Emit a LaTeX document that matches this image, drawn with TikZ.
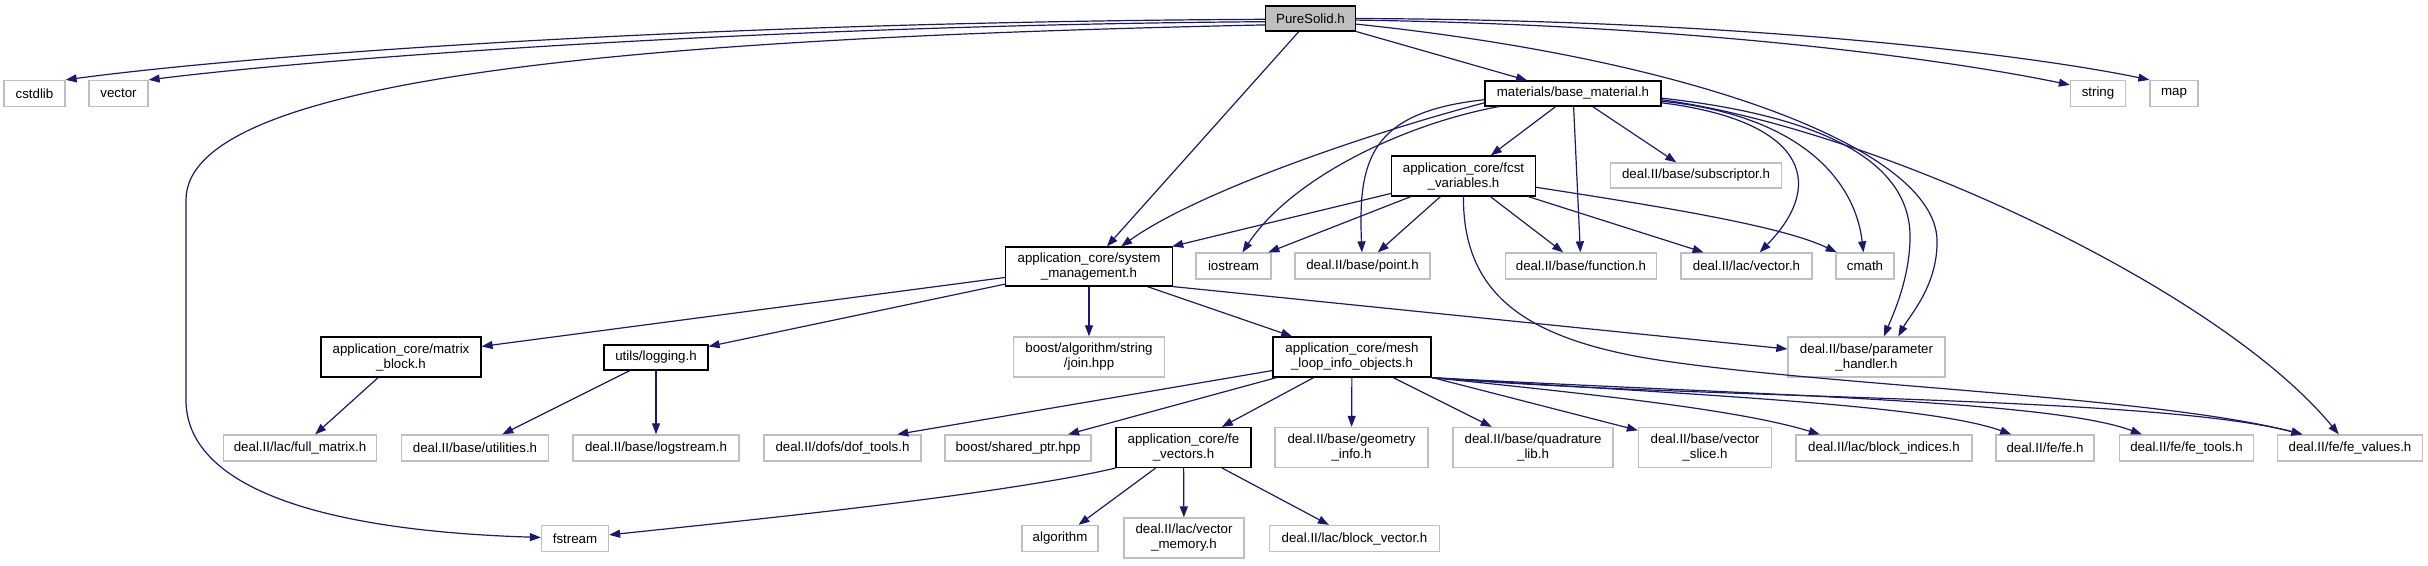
\documentclass[tikz,border=0pt]{standalone}
\usepackage{fontspec}
\setmainfont{Liberation Sans}
\usetikzlibrary{arrows.meta}
\definecolor{midblue}{HTML}{191970}
\definecolor{greyseventyfive}{HTML}{BFBFBF}
\tikzset{
  nb/.style={draw=black, line width=1.2pt, fill=white, inner sep=0pt, align=center,
    font=\fontsize{13.3}{15}\selectfont},
  ng/.style={draw=greyseventyfive, line width=1.3pt, fill=white, inner sep=0pt, align=center,
    font=\fontsize{13.3}{15}\selectfont},
  conn/.style={draw=midblue, line width=1.2pt, -{Triangle[length=11pt,width=8pt]}}
}
\begin{document}
\begin{tikzpicture}[x=1pt,y=-1pt]
\useasboundingbox (0,0) rectangle (2428,565);

% nodes
\node[nb, fill=greyseventyfive, minimum width=90pt, minimum height=25pt] (ps) at (1310.5,18.5) {PureSolid.h};
\node[ng, minimum width=61pt, minimum height=26pt] (cstdlib) at (34.5,93.5) {cstdlib};
\node[ng, minimum width=59pt, minimum height=26pt] (vector) at (118.5,93.5) {vector};
\node[nb, minimum width=176pt, minimum height=25pt] (bm) at (1573,93.5) {materials/base\_material.h};
\node[ng, minimum width=55pt, minimum height=26pt] (string) at (2098,93.5) {string};
\node[ng, minimum width=48pt, minimum height=26pt] (map) at (2174,93.5) {map};
\node[nb, minimum width=144pt, minimum height=40pt] (fcst) at (1463.5,176) {application\_core/fcst\\\_variables.h};
\node[ng, minimum width=171pt, minimum height=25pt] (subscr) at (1696,175.5) {deal.II/base/subscriptor.h};
\node[nb, minimum width=167pt, minimum height=39pt] (sys) at (1089,266.5) {application\_core/system\\\_management.h};
\node[ng, minimum width=75pt, minimum height=26pt] (iostream) at (1233.5,266) {iostream};
\node[ng, minimum width=135pt, minimum height=26pt] (point) at (1362.5,266) {deal.II/base/point.h};
\node[ng, minimum width=151pt, minimum height=26pt] (function) at (1581,266) {deal.II/base/function.h};
\node[ng, minimum width=131pt, minimum height=26pt] (lvector) at (1746.5,266) {deal.II/lac/vector.h};
\node[ng, minimum width=58pt, minimum height=26pt] (cmath) at (1865,266) {cmath};
\node[nb, minimum width=160pt, minimum height=40pt] (matrix) at (401,357) {application\_core/matrix\\\_block.h};
\node[nb, minimum width=104pt, minimum height=25pt] (logging) at (656,357.5) {utils/logging.h};
\node[ng, minimum width=151pt, minimum height=40pt] (join) at (1089,357) {boost/algorithm/string\\/join.hpp};
\node[nb, minimum width=158pt, minimum height=40pt] (mesh) at (1352,357) {application\_core/mesh\\\_loop\_info\_objects.h};
\node[ng, minimum width=157pt, minimum height=40pt] (param) at (1866.5,357) {deal.II/base/parameter\\\_handler.h};
\node[ng, minimum width=153pt, minimum height=26pt] (fullm) at (300,448) {deal.II/lac/full\_matrix.h};
\node[ng, minimum width=147pt, minimum height=26pt] (util) at (475,448) {deal.II/base/utilities.h};
\node[ng, minimum width=166pt, minimum height=26pt] (logs) at (656,448) {deal.II/base/logstream.h};
\node[ng, minimum width=157pt, minimum height=26pt] (dof) at (842.5,448) {deal.II/dofs/dof\_tools.h};
\node[ng, minimum width=146pt, minimum height=26pt] (shared) at (1018,448) {boost/shared\_ptr.hpp};
\node[nb, minimum width=135pt, minimum height=40pt] (fevec) at (1183.5,447.5) {application\_core/fe\\\_vectors.h};
\node[ng, minimum width=153pt, minimum height=40pt] (geom) at (1351.5,447.5) {deal.II/base/geometry\\\_info.h};
\node[ng, minimum width=160pt, minimum height=40pt] (quad) at (1533,447.5) {deal.II/base/quadrature\\\_lib.h};
\node[ng, minimum width=133pt, minimum height=40pt] (vslice) at (1705,447.5) {deal.II/base/vector\\\_slice.h};
\node[ng, minimum width=176pt, minimum height=26pt] (bidx) at (1884,448) {deal.II/lac/block\_indices.h};
\node[ng, minimum width=98pt, minimum height=26pt] (fe) at (2045,448) {deal.II/fe/fe.h};
\node[ng, minimum width=134pt, minimum height=26pt] (fetools) at (2186.5,448) {deal.II/fe/fe\_tools.h};
\node[ng, minimum width=145pt, minimum height=26pt] (fevalues) at (2350,448) {deal.II/fe/fe\_values.h};
\node[ng, minimum width=67pt, minimum height=26pt] (fstream) at (575,538.5) {fstream};
\node[ng, minimum width=76pt, minimum height=26pt] (algorithm) at (1060,538.5) {algorithm};
\node[ng, minimum width=120pt, minimum height=40pt] (vmem) at (1184,538) {deal.II/lac/vector\\\_memory.h};
\node[ng, minimum width=170pt, minimum height=26pt] (bvec) at (1354.5,538.5) {deal.II/lac/block\_vector.h};

% PureSolid.h
\draw[conn] (ps.181) .. controls (700,22) and (250,55) .. (cstdlib.north east);
\draw[conn] (ps.184) .. controls (800,25) and (350,55) .. (vector.north east);
\draw[conn] (ps.188) .. controls (650,38) and (186,75) .. (186,200) -- (186,400) .. controls (186,480) and (300,530) .. (fstream);
\draw[conn] (ps) -- (sys);
\draw[conn] (ps) -- (bm);
\draw[conn] (ps.-2) .. controls (1700,25) and (1950,60) .. (string.163);
\draw[conn] (ps.0) .. controls (1750,20) and (2030,55) .. (map.north west);
\draw[conn] (ps.-7) .. controls (1700,60) and (1935,150) .. (1937,240) .. controls (1938,285) and (1910,315) .. (param.33);

% base_material.h
\draw[conn] (bm.186) .. controls (1380,130) and (1200,190) .. (sys.32);
\draw[conn] (bm.190) .. controls (1400,125) and (1290,180) .. (iostream);
\draw[conn] (bm.184) .. controls (1370,112) and (1358,160) .. (point);
\draw[conn] (bm) -- (fcst);
\draw[conn] (bm) -- (function);
\draw[conn] (bm) -- (subscr);
\draw[conn] (bm.-6) .. controls (1800,120) and (1830,180) .. (lvector);
\draw[conn] (bm.-5) .. controls (1800,115) and (1855,180) .. (cmath);
\draw[conn] (bm.-3) .. controls (1860,120) and (1912,180) .. (1910,240) .. controls (1909,280) and (1893,315) .. (param.50);
\draw[conn] (bm.-4) .. controls (1880,130) and (2220,290) .. (fevalues);

% fcst_variables.h
\draw[conn] (fcst) -- (sys);
\draw[conn] (fcst) -- (iostream);
\draw[conn] (fcst) -- (point);
\draw[conn] (fcst) -- (function);
\draw[conn] (fcst) -- (lvector);
\draw[conn] (fcst) .. controls (1650,205) and (1780,225) .. (cmath);
\draw[conn] (fcst) .. controls (1463,290) and (1520,335) .. (1640,357) .. controls (1800,385) and (2150,395) .. (fevalues.164);

% system_management.h
\draw[conn] (sys) -- (matrix);
\draw[conn] (sys) -- (logging);
\draw[conn] (sys) -- (join);
\draw[conn] (sys) -- (mesh);
\draw[conn] (sys.south east) -- (param);

\draw[conn] (matrix) -- (fullm);
\draw[conn] (logging) -- (util);
\draw[conn] (logging) -- (logs);

% mesh_loop_info_objects.h
\draw[conn] (mesh) -- (dof.14);
\draw[conn] (mesh) -- (shared);
\draw[conn] (mesh) -- (fevec);
\draw[conn] (mesh) -- (geom);
\draw[conn] (mesh) -- (quad);
\draw[conn] (mesh) -- (vslice);
\draw[conn] (mesh.south east) .. controls (1600,395) and (1740,410) .. (bidx.168);
\draw[conn] (mesh.south east) .. controls (1700,395) and (1930,405) .. (fe.158);
\draw[conn] (mesh.south east) .. controls (1750,395) and (2050,400) .. (fetools.163);
\draw[conn] (mesh.south east) .. controls (1700,400) and (2150,395) .. (fevalues.164);

% fe_vectors.h
\draw[conn] (fevec.south west) .. controls (1000,495) and (750,520) .. (fstream);
\draw[conn] (fevec) -- (algorithm);
\draw[conn] (fevec) -- (vmem);
\draw[conn] (fevec) -- (bvec);
\end{tikzpicture}
\end{document}
